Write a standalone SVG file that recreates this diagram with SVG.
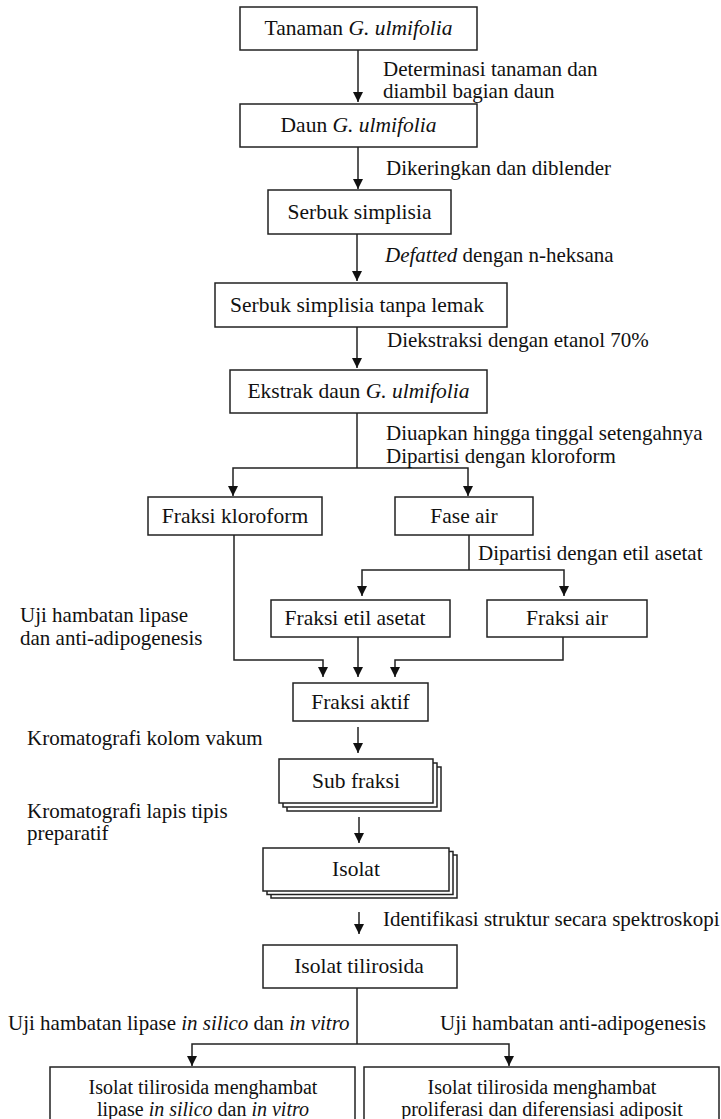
<svg xmlns="http://www.w3.org/2000/svg" width="721" height="1119" viewBox="0 0 721 1119">
<style>
.b{fill:#fff;stroke:#222;stroke-width:1.5}
.c{fill:none;stroke:#222;stroke-width:1.5}
text{font-family:"Liberation Serif","Times New Roman",serif;font-size:21px;fill:#111}
.n{font-size:21.5px}
.s{font-size:20px}
.m{text-anchor:middle}
.i{font-style:italic}
</style>
<defs>
<marker id="ah" markerUnits="userSpaceOnUse" markerWidth="10" markerHeight="10" refX="5" refY="10" orient="0" viewBox="0 0 10 10">
<path d="M0,0 L10,0 L5,10 z" fill="#111"/>
</marker>
</defs>
<rect width="721" height="1119" fill="#fff"/>
<g id="connectors">
<path class="c" d="M358,50 V102" marker-end="url(#ah)"/>
<path class="c" d="M358,147 V189" marker-end="url(#ah)"/>
<path class="c" d="M357,234 V281" marker-end="url(#ah)"/>
<path class="c" d="M357,327 V368" marker-end="url(#ah)"/>
<path class="c" d="M357,413 V468"/>
<path class="c" d="M357,468 H233 V496" marker-end="url(#ah)"/>
<path class="c" d="M357,468 H468 V496" marker-end="url(#ah)"/>
<path class="c" d="M469,535 V570"/>
<path class="c" d="M469,570 H362 V596" marker-end="url(#ah)"/>
<path class="c" d="M469,570 H564 V596" marker-end="url(#ah)"/>
<path class="c" d="M234,535 V660 H323 V677" marker-end="url(#ah)"/>
<path class="c" d="M358,637 V677" marker-end="url(#ah)"/>
<path class="c" d="M563,637 V660 H395 V677" marker-end="url(#ah)"/>
<path class="c" d="M358,727 V753" marker-end="url(#ah)"/>
<path class="c" d="M359,817 V843" marker-end="url(#ah)"/>
<path class="c" d="M359,912 V934" marker-end="url(#ah)"/>
<path class="c" d="M357,988 V1044"/>
<path class="c" d="M357,1044 H192 V1066" marker-end="url(#ah)"/>
<path class="c" d="M357,1044 H509 V1066" marker-end="url(#ah)"/>
</g>
<g id="n1"><rect class="b" x="240" y="7" width="237" height="43"/><text class="m n" x="358.5" y="35">Tanaman <tspan class="i">G. ulmifolia</tspan></text></g>
<g id="n2"><rect class="b" x="240" y="104" width="237" height="43"/><text class="m n" x="358.5" y="132">Daun <tspan class="i">G. ulmifolia</tspan></text></g>
<g id="n3"><rect class="b" x="268" y="190" width="183" height="44"/><text class="m n" x="359.5" y="219">Serbuk simplisia</text></g>
<g id="n4"><rect class="b" x="215" y="283" width="292" height="44"/><text class="m n" x="357" y="312">Serbuk simplisia tanpa lemak</text></g>
<g id="n5"><rect class="b" x="230" y="370" width="257" height="43"/><text class="m n" x="358.5" y="398">Ekstrak daun <tspan class="i">G. ulmifolia</tspan></text></g>
<g id="n6"><rect class="b" x="148" y="497" width="174" height="38"/><text class="m n" x="235" y="523">Fraksi kloroform</text></g>
<g id="n7"><rect class="b" x="395" y="497" width="138" height="38"/><text class="m n" x="464" y="523">Fase air</text></g>
<g id="n8"><rect class="b" x="271" y="600" width="179" height="37"/><text class="m n" x="355" y="625">Fraksi etil asetat</text></g>
<g id="n9"><rect class="b" x="487" y="600" width="160" height="37"/><text class="m n" x="567" y="625">Fraksi air</text></g>
<g id="n10"><rect class="b" x="293" y="683" width="135" height="38"/><text class="m n" x="360.5" y="709">Fraksi aktif</text></g>
<g id="n11"><rect class="b" x="287" y="767" width="154" height="44"/><rect class="b" x="283" y="763" width="154" height="44"/><rect class="b" x="279" y="759" width="154" height="44"/><text class="m n" x="356" y="788">Sub fraksi</text></g>
<g id="n12"><rect class="b" x="271" y="855" width="186" height="43"/><rect class="b" x="267" y="851.5" width="186" height="43"/><rect class="b" x="263" y="848" width="186" height="43"/><text class="m n" x="356" y="876">Isolat</text></g>
<g id="n13"><rect class="b" x="263" y="945" width="194" height="43"/><text class="m n" x="359" y="973">Isolat tilirosida</text></g>
<g id="n14"><rect class="b" x="50" y="1067" width="305" height="60"/><text class="m s" x="203" y="1094">Isolat tilirosida menghambat</text><text class="m s" x="203" y="1116">lipase <tspan class="i">in silico</tspan> dan <tspan class="i">in vitro</tspan></text></g>
<g id="n15"><rect class="b" x="364" y="1067" width="355" height="60"/><text class="m s" x="542" y="1094">Isolat tilirosida menghambat</text><text class="m s" x="542" y="1116">proliferasi dan diferensiasi adiposit</text></g>
<g id="labels">
<text x="383" y="76">Determinasi tanaman dan</text>
<text x="383" y="98">diambil bagian daun</text>
<text x="386" y="175">Dikeringkan dan diblender</text>
<text x="385" y="262"><tspan class="i">Defatted</tspan> dengan n-heksana</text>
<text x="387" y="347">Diekstraksi dengan etanol 70%</text>
<text x="386" y="440">Diuapkan hingga tinggal setengahnya</text>
<text x="386" y="463">Dipartisi dengan kloroform</text>
<text x="478" y="560">Dipartisi dengan etil asetat</text>
<text x="20" y="622">Uji hambatan lipase</text>
<text x="20" y="645">dan anti-adipogenesis</text>
<text x="27" y="745">Kromatografi kolom vakum</text>
<text x="27" y="818">Kromatografi lapis tipis</text>
<text x="27" y="840">preparatif</text>
<text x="383" y="926">Identifikasi struktur secara spektroskopi</text>
<text x="8" y="1030">Uji hambatan lipase <tspan class="i">in silico</tspan> dan <tspan class="i">in vitro</tspan></text>
<text x="440" y="1030">Uji hambatan anti-adipogenesis</text>
</g>
</svg>
